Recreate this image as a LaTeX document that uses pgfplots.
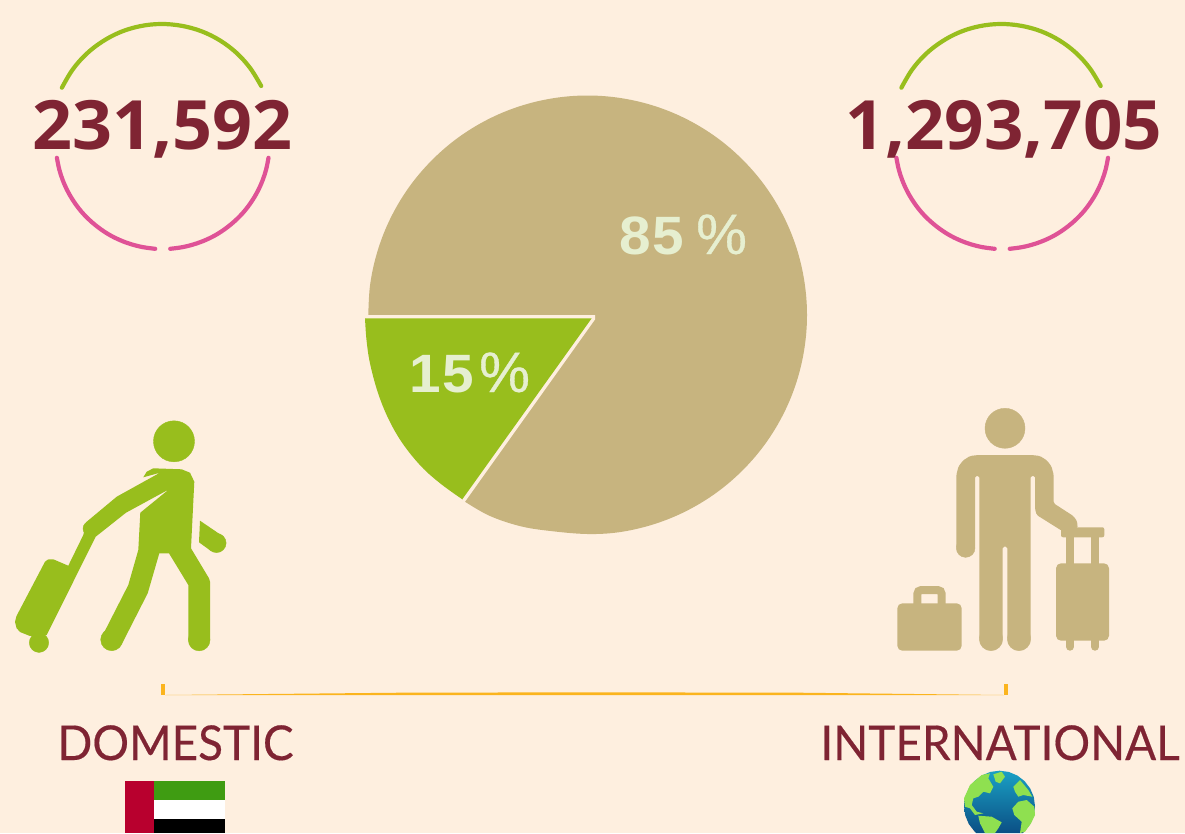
\documentclass[border=0pt]{standalone}
\usepackage{pgfplots}
\usepackage{pgfplotstable}
\usepackage{fontspec}
\pgfplotsset{compat=1.18}
\setmainfont{Open Sans}
\newfontfamily\labelfont[FakeStretch=0.955,FakeBold=0.35]{Lato}
\newfontfamily\pctbold[LetterSpace=2,FakeStretch=1.05]{Liberation Sans Bold}
\newfontfamily\pctreg[FakeBold=0.6]{Liberation Sans}

\definecolor{bg}{HTML}{FEEFDF}
\definecolor{lime}{HTML}{98BE1D}
\definecolor{tan}{HTML}{C7B47F}
\definecolor{maroon}{HTML}{7F2433}
\definecolor{pink}{HTML}{DF5296}
\definecolor{gold}{HTML}{FBB41E}
\definecolor{pct}{HTML}{E6EFD0}
\definecolor{land}{HTML}{8FE050}
\definecolor{seatop}{HTML}{1AA0C4}
\definecolor{seabot}{HTML}{0B4F85}

% rings round the numbers, left one; the right one is the same shifted
\pgfplotstableread{
x y
61.9 87.7
72.4 69.9
86.0 54.3
102.3 41.6
120.6 32.0
140.5 26.1
161.0 24.0
181.6 25.8
201.6 31.3
220.1 40.5
236.6 53.0
250.4 68.4
261.2 86.0
}\arcgreen
\pgfplotstableread{
x y
56.9 157.8
59.2 169.2
62.8 180.3
67.8 191.4
74.0 201.8
81.3 211.5
89.7 220.2
99.1 228.0
109.2 234.7
120.0 240.1
131.4 244.3
143.2 247.2
155.2 248.8
}\arcpinkl
\pgfplotstableread{
x y
170.2 248.8
182.2 247.2
193.9 244.3
205.4 240.1
216.2 234.7
226.3 228.0
235.7 220.2
244.1 211.5
251.4 201.8
257.6 191.4
262.6 180.3
266.2 169.2
268.5 157.8
}\arcpinkr

\pgfplotsset{
  ring/.style={line width=4.2pt, line cap=round, smooth, tension=0.6},
  dot/.style={only marks, mark=*, mark size=#1},
}

\begin{document}
\begin{tikzpicture}
\begin{axis}[
  scale only axis,
  width=1185pt, height=833pt,
  xmin=0, xmax=1185, ymin=0, ymax=833,
  y dir=reverse,
  axis lines=none,
  ticks=none,
]
% background
\addplot[draw=none, fill=bg] coordinates {(0,0) (1185,0) (1185,833) (0,833)} -- cycle;

% rings
\addplot[lime, ring] table {\arcgreen};
\addplot[pink, ring] table {\arcpinkl};
\addplot[pink, ring] table {\arcpinkr};
\addplot[lime, ring] table[x expr=\thisrow{x}+839.5, y=y] {\arcgreen};
\addplot[pink, ring] table[x expr=\thisrow{x}+839.5, y=y] {\arcpinkl};
\addplot[pink, ring] table[x expr=\thisrow{x}+839.5, y=y] {\arcpinkr};

% pie, 85%: the arc, then the gap round the other slice is cut out of it
\addplot[draw=none, fill=tan, smooth, tension=0.6] coordinates {
  (368.3,315) (369.9,286.4) (375.5,258.2) (384.7,231.0) (397.4,205.25) (413.3,181.4)
  (432.3,159.8) (453.9,140.8) (477.75,124.9) (503.5,112.2) (530.7,103) (558.9,97.4)
  (587.5,95.5) (616.1,97.4) (644.3,103) (671.5,112.2) (697.25,124.9) (721.1,140.8)
  (742.7,159.8) (761.7,181.4) (777.6,205.25) (790.3,231) (799.5,258.2) (805.1,286.4)
  (807,315) (805.1,343.6) (799.5,371.8) (790.3,399) (777.6,424.75) (761.7,448.6)
  (742.7,470.2) (721.1,489.2) (697.25,505.1) (671.5,517.8) (644.3,527) (616.1,532.6)
  (587.5,534) (555,531.5) (521.7,526.5) (490,516) (465,501.7)
} -- cycle;
\addplot[draw=none, fill=bg] coordinates {(355,315) (595,315) (595,319.5) (465,501.7) (440,515) (355,515)} -- cycle;
% pie, 15%
\addplot[draw=none, fill=lime, smooth, tension=0.6] coordinates {
  (365,318.3) (366.5,340) (370,363.3) (378,393) (389,420) (403,444) (421.5,466.7)
  (441,484) (462.3,499.3)
} -- cycle;
\addplot[draw=none, fill=lime] coordinates {(365,318.3) (591.7,318.3) (462.3,499.3) (405,420)} -- cycle;

% domestic traveller
\addplot[lime, dot=20.5] coordinates {(174,441.3)};
\addplot[lime, dot=9.7] coordinates {(39,642.7)};
\addplot[draw=none, fill=lime] coordinates {
  (143.3,477.3) (146.7,471.7) (153.3,468.3) (181.7,469.3) (190,472.7) (194.3,481.7)
  (191,548.3) (209,578.3) (210,581.7) (210,640) (188.3,640) (188.3,585) (169,553.3)
  (159.3,553.3) (147.7,593.3) (121.7,644.3) (103.3,634)
  (128.3,585) (138.3,550) (140.3,512.7) (169,489.3) (126,512.7) (95.7,536.7) (46.7,635)
  (30,636) (20,632) (16.5,628) (15,621.7) (16.5,616) (45,561.7) (48,559.5) (53.3,559.3) (68.3,565.7) (83.3,535)
  (86,522.3) (116.7,496.7) (160,472.7)
} -- cycle;
\addplot[lime, dot=10.85] coordinates {(199.15,640)};
\addplot[lime, dot=11] coordinates {(111.7,639.7)};
\addplot[lime, dot=7] coordinates {(90,528.5)};
\addplot[draw=none, fill=lime] coordinates {(200,520.7) (222.5,536) (211,551) (199,542.3)} -- cycle;
\addplot[lime, dot=9.6] coordinates {(216.5,543)};

% international traveller
\addplot[tan, dot=20] coordinates {(1005,428.3)};
\addplot[draw=none, fill=tan, rounded corners=1.5pt] coordinates {
  (978.3,455) (1031.7,455) (1040,456) (1047,460.5) (1051.5,466.5) (1053.7,475) (1053.7,503.3)
  (1073.3,516) (1077,521) (1077.7,528) (1061.7,530.7) (1036.7,515) (1035,509) (1035,476)
  (1030.7,476) (1030.7,639) (1007.3,639) (1007.3,546.7) (1002.7,546.7) (1002.7,639)
  (979.3,639) (979.3,476) (975,476) (975,548) (956.3,548) (956.3,475) (958.5,466.5) (963,460.5) (970,456)
} -- cycle;
\addplot[tan, dot=11.7] coordinates {(1019,639)};
\addplot[tan, dot=11.7] coordinates {(991,639)};
\addplot[tan, dot=9.35] coordinates {(965.65,548)};
% trolley
\addplot[draw=none, fill=tan, rounded corners=2pt] coordinates {(1061,527.3) (1104.3,527.3) (1104.3,537.3) (1061,537.3)} -- cycle;
\addplot[tan, line width=8pt] coordinates {(1070,537) (1070,564)};
\addplot[tan, line width=8pt] coordinates {(1095,537) (1095,564)};
\addplot[draw=none, fill=tan, rounded corners=5pt] coordinates {(1056,563.3) (1109,563.3) (1109,640.7) (1056,640.7)} -- cycle;
\addplot[tan, line width=8pt, line cap=round] coordinates {(1070,640) (1070,646.7)};
\addplot[tan, line width=8pt, line cap=round] coordinates {(1095,640) (1095,646.7)};
% briefcase
\addplot[draw=none, fill=tan, rounded corners=5pt] coordinates {(897.3,603.3) (961.7,603.3) (961.7,650.7) (897.3,650.7)} -- cycle;
\addplot[tan, line width=8pt, rounded corners=4pt] coordinates {(917.3,604) (917.3,590) (941.7,590) (941.7,604)};

% connector
\addplot[draw=none, fill=gold] coordinates {(165,695) (400,692.7) (584,692.3) (800,692.7) (1004,695)} -- cycle;
\addplot[draw=none, fill=gold] coordinates {(161,684.3) (165,684.3) (165,695) (161,695)} -- cycle;
\addplot[draw=none, fill=gold] coordinates {(1004,684.3) (1007.7,684.3) (1007.7,695) (1004,695)} -- cycle;

% flag
\addplot[draw=none, fill={rgb,255:red,184;green,0;blue,46}] coordinates {(125,781) (154,781) (154,833) (125,833)} -- cycle;
\addplot[draw=none, fill={rgb,255:red,63;green,156;blue,18}] coordinates {(154,781) (225,781) (225,800) (154,800)} -- cycle;
\addplot[draw=none, fill=white] coordinates {(154,800) (225,800) (225,819) (154,819)} -- cycle;
\addplot[draw=none, fill=black] coordinates {(154,819) (225,819) (225,833) (154,833)} -- cycle;

% globe, cut off by the page
\addplot[draw=none, top color=seatop, bottom color=seabot] coordinates {
  (1035,806.2) (1033.8,815.4) (1030.2,824) (1024.6,831.3) (1022.8,833) (976.2,833) (974.4,831.3)
  (968.8,824) (965.2,815.4) (964,806.2) (965.2,797) (968.8,788.5) (974.4,781.1) (981.7,775.5)
  (990.3,771.9) (999.5,770.7) (1008.7,771.9) (1017.3,775.5) (1024.6,781.1) (1030.2,788.5) (1033.8,797)
} -- cycle;
\addplot[draw=none, fill=land] coordinates {
  (964,798.3) (970,785) (981.7,775) (990,773.3) (988.3,778.3) (993.3,786.7) (990,793.3)
  (983.3,791.7) (978.3,796.7) (973.3,798.3) (971.7,805) (976.7,811.7) (983.3,813.3)
  (975,815) (970,808.3) (965,806.7)
} -- cycle;
\addplot[draw=none, fill=land] coordinates {(993.3,774.3) (1001.7,771.7) (1005,776.7) (1000,783.3) (995.7,781.7)} -- cycle;
\addplot[draw=none, fill=land] coordinates {
  (1012.3,808.3) (1018.3,801.7) (1026.7,800) (1034.3,806.7) (1035,815) (1031,823.3)
  (1025,831.7) (1020,833) (1021.7,821.7) (1014.3,815)
} -- cycle;
\addplot[draw=none, fill=land] coordinates {(1013.3,786.7) (1020,780) (1028.3,790) (1032.3,796.7) (1023.3,795) (1018.3,796.7) (1015,791.7)} -- cycle;
\addplot[draw=none, fill=land] coordinates {(978.3,815.7) (991.7,816.7) (1001.7,822.3) (998.3,828.3) (995,833) (985,833) (980,823.3)} -- cycle;

% text
\node[maroon, anchor=base, font=\bfseries\fontsize{68}{68}\selectfont] at (axis cs:162.5,149.3) {\scalebox{1.03}[1]{231,592}};
\node[maroon, anchor=base, font=\bfseries\fontsize{68}{68}\selectfont] at (axis cs:1004,149.3) {\scalebox{1.016}[1]{1,293,705}};
\node[maroon, anchor=base, font=\labelfont\fontsize{48}{48}\selectfont] at (axis cs:175.5,760) {DOMESTIC};
\node[maroon, anchor=base, font=\labelfont\fontsize{48}{48}\selectfont] at (axis cs:1000,760) {INTERNATIONAL};
\node[pct, anchor=base east, inner xsep=0pt, font=\pctbold\fontsize{54}{54}\selectfont] at (axis cs:684,254) {85};
\node[pct, anchor=base west, inner xsep=0pt, font=\pctreg\fontsize{57}{57}\selectfont] at (axis cs:696,254) {\%};
\node[pct, anchor=base east, inner xsep=0pt, font=\pctbold\fontsize{54}{54}\selectfont] at (axis cs:474,392) {15};
\node[pct, anchor=base west, inner xsep=0pt, font=\pctreg\fontsize{57}{57}\selectfont] at (axis cs:479,392) {\%};
\end{axis}
\end{tikzpicture}
\end{document}
